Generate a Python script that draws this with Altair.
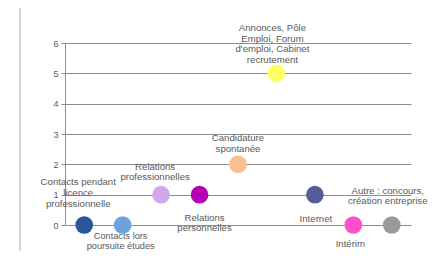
import altair as alt
import pandas as pd

categories = [
    "Contacts pendant licence professionnelle",
    "Contacts lors poursuite études",
    "Relations professionnelles",
    "Relations personnelles",
    "Candidature spontanée",
    "Annonces, Pôle Emploi, Forum d'emploi, Cabinet recrutement",
    "Internet",
    "Intérim",
    "Autre : concours, création entreprise",
]
values = [0, 0, 1, 1, 2, 5, 1, 0, 0]
label_text = [
    "Contacts pendant\nlicence\nprofessionnelle",
    "Contacts lors\npoursuite études",
    "Relations\nprofessionnelles",
    "Relations\npersonnelles",
    "Candidature\nspontanée",
    "Annonces, Pôle\nEmploi, Forum\nd'emploi, Cabinet\nrecrutement",
    "Internet",
    "Intérim",
    "Autre : concours,\ncréation entreprise",
]
colors = ["#2A5596", "#6EA1DC", "#D2A8EC", "#B400B4", "#FAC090",
          "#FFFF66", "#565C9A", "#FF50C8", "#9A9A9A"]
y_ticks = [0, 1, 2, 3, 4, 5, 6]

# label placement (dx, dy, lineHeight, fontSize) relative to each point -- styling only
label_style = [(-6, -48, 11, 9.6), (-2, 7, 9.6, 9.2), (-6, -33, 10.5, 9.6),
               (5, 18, 10.5, 9.6), (0, -31, 10.5, 9.6), (-4, -50, 10.5, 9.6),
               (1, 19, 10.5, 9.6), (-3, 14, 10.5, 9.6), (-4, -39, 10.3, 9.6)]

df = pd.DataFrame({"cat": categories, "val": values, "label": label_text})

FONT = "Liberation Sans"
TXT = "#595959"
GRID = "#8c8c8c"

x_enc = alt.X("cat:N", sort=categories, axis=None,
              scale=alt.Scale(type="point", padding=0.5))
y_enc = alt.Y("val:Q",
              scale=alt.Scale(domain=[0, 6], nice=False),
              axis=alt.Axis(values=y_ticks, title=None, grid=True,
                            gridColor=GRID, gridWidth=1,
                            domainColor=GRID, tickColor=GRID, tickSize=4,
                            labelFontSize=9, labelColor=TXT, labelFont=FONT,
                            labelPadding=3))

base = alt.Chart(df)

frame = base.mark_rect(filled=False, stroke="#d4d4d4", strokeWidth=1).encode(
    x=alt.value(-45), x2=alt.value(420), y=alt.value(-36), y2=alt.value(320)
)

points = base.mark_circle(size=314, opacity=1).encode(
    x=x_enc, y=y_enc,
    color=alt.Color("cat:N", scale=alt.Scale(domain=categories, range=colors),
                    legend=None),
)

texts = []
for c, (dx, dy, lh, fs) in zip(categories, label_style):
    texts.append(
        base.transform_filter(alt.FieldEqualPredicate(field="cat", equal=c))
        .mark_text(align="center", baseline="top", dx=dx, dy=dy,
                   fontSize=fs, font=FONT, color=TXT, lineBreak="\n",
                   lineHeight=lh)
        .encode(x=x_enc, y=y_enc, text="label:N")
    )

chart = alt.layer(frame, points, *texts).properties(
    width=346, height=182,
    autosize=alt.AutoSizeParams(type="none"),
    padding={"left": 57, "top": 35, "right": 19, "bottom": 26},
    background="white",
).configure_view(stroke=None)

chart.save("out.html", embed_options={"renderer": "svg", "actions": False})
